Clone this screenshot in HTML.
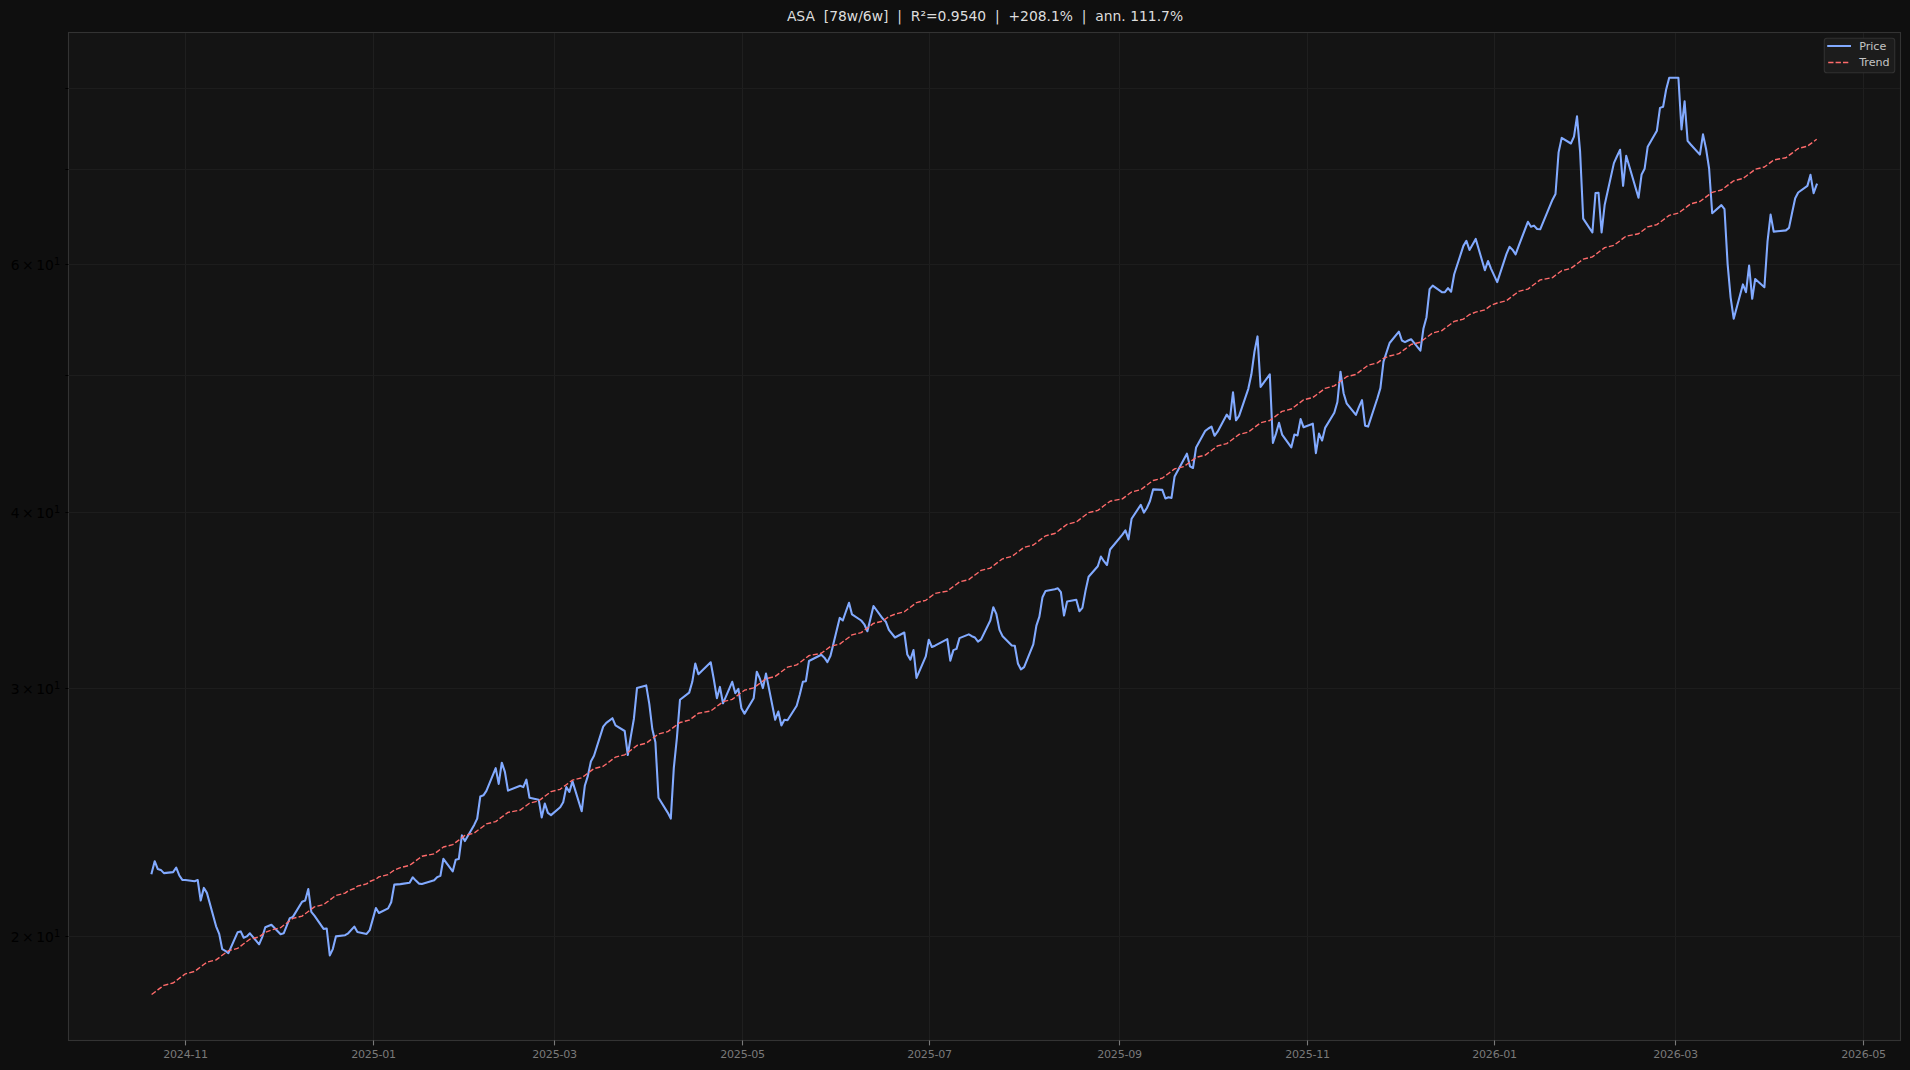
<!DOCTYPE html>
<html><head><meta charset="utf-8"><title>ASA trend</title>
<style>
html,body{margin:0;padding:0;background:#0f0f0f;}
body{width:1910px;height:1070px;overflow:hidden;}
svg{display:block;font-family:"DejaVu Sans","Liberation Sans",sans-serif;}
</style></head><body>
<svg width="1910" height="1070" viewBox="0 0 1910 1070">
<rect x="0" y="0" width="1910" height="1070" fill="#0f0f0f"/>
<rect x="68.5" y="32.5" width="1832.0" height="1008.0" fill="#141414"/>
<g stroke="#1f1f1f" stroke-width="1" fill="none">
<line x1="185.5" y1="32.5" x2="185.5" y2="1040.5"/>
<line x1="373.5" y1="32.5" x2="373.5" y2="1040.5"/>
<line x1="554.5" y1="32.5" x2="554.5" y2="1040.5"/>
<line x1="742.5" y1="32.5" x2="742.5" y2="1040.5"/>
<line x1="929.5" y1="32.5" x2="929.5" y2="1040.5"/>
<line x1="1119.5" y1="32.5" x2="1119.5" y2="1040.5"/>
<line x1="1307.5" y1="32.5" x2="1307.5" y2="1040.5"/>
<line x1="1494.5" y1="32.5" x2="1494.5" y2="1040.5"/>
<line x1="1675.5" y1="32.5" x2="1675.5" y2="1040.5"/>
<line x1="1863.5" y1="32.5" x2="1863.5" y2="1040.5"/>
<line x1="68.5" y1="936.5" x2="1900.5" y2="936.5" stroke="#1d1d1d"/>
<line x1="68.5" y1="688.5" x2="1900.5" y2="688.5" stroke="#1d1d1d"/>
<line x1="68.5" y1="512.5" x2="1900.5" y2="512.5" stroke="#1d1d1d"/>
<line x1="68.5" y1="375.5" x2="1900.5" y2="375.5" stroke="#1d1d1d"/>
<line x1="68.5" y1="264.5" x2="1900.5" y2="264.5" stroke="#1d1d1d"/>
<line x1="68.5" y1="169.5" x2="1900.5" y2="169.5" stroke="#1d1d1d"/>
<line x1="68.5" y1="88.5" x2="1900.5" y2="88.5" stroke="#1d1d1d"/>
</g>
<clipPath id="c"><rect x="68.5" y="32.5" width="1832.0" height="1008.0"/></clipPath>
<g clip-path="url(#c)" fill="none" stroke-linejoin="round">
<path d="M151.6 873.3 L154.7 861.2 L157.7 868.9 L160.8 869.9 L163.9 873.1 L173.1 872.1 L176.2 867.7 L179.2 875.2 L182.3 879.9 L185.4 880.0 L194.6 881.2 L197.7 880.0 L200.7 900.5 L203.8 887.9 L206.9 892.9 L216.1 926.3 L219.2 933.9 L222.2 949.1 L225.3 950.9 L228.4 953.2 L237.6 932.3 L240.7 931.4 L243.7 937.7 L246.8 936.4 L249.9 933.3 L259.1 944.3 L262.2 937.1 L265.3 927.2 L271.4 924.7 L280.6 934.3 L283.7 933.3 L286.8 925.7 L289.8 918.1 L292.9 916.9 L302.1 901.7 L305.2 900.5 L308.3 889.1 L311.3 911.8 L314.4 915.6 L323.6 928.9 L326.7 928.5 L329.8 955.4 L332.8 949.1 L335.9 936.4 L345.1 935.2 L348.2 933.3 L354.3 926.6 L357.4 932.0 L366.6 933.9 L369.7 930.1 L375.9 908.0 L378.9 913.0 L388.1 908.4 L391.2 902.3 L394.3 884.6 L400.4 884.1 L409.6 882.7 L412.7 877.3 L415.8 880.6 L418.9 883.6 L421.9 884.0 L434.2 880.2 L437.3 877.1 L440.4 875.8 L443.4 858.8 L452.7 871.4 L455.7 859.7 L458.8 859.1 L461.9 835.4 L464.9 841.1 L474.2 824.9 L477.2 818.6 L480.3 796.5 L483.4 795.3 L486.4 790.9 L495.7 768.1 L498.7 783.9 L501.8 762.7 L504.9 771.9 L508.0 790.6 L520.2 785.8 L523.3 787.1 L526.4 779.7 L529.5 797.8 L538.7 799.7 L541.7 817.4 L544.8 803.5 L547.9 812.9 L551.0 815.1 L560.2 807.3 L563.2 802.2 L566.3 787.1 L569.4 791.9 L572.5 781.4 L581.7 811.3 L584.8 785.8 L587.8 776.1 L590.9 761.5 L594.0 755.8 L603.2 726.6 L606.3 722.8 L609.3 720.6 L612.4 718.2 L615.5 725.4 L624.7 731.0 L627.8 755.0 L630.8 736.7 L633.9 718.7 L637.0 688.1 L646.2 685.4 L649.3 703.9 L652.3 729.0 L655.4 742.3 L658.5 797.8 L667.7 812.6 L670.8 818.6 L673.8 768.1 L676.9 737.9 L680.0 699.7 L689.2 692.6 L692.3 681.8 L695.3 663.5 L698.4 674.3 L710.7 662.3 L713.8 679.3 L716.9 698.2 L719.9 686.9 L723.0 703.3 L732.2 681.8 L735.3 693.2 L738.4 688.8 L741.4 708.3 L744.5 713.6 L753.7 698.2 L756.8 671.7 L759.9 678.7 L762.9 688.1 L766.0 673.6 L775.2 719.7 L778.3 711.5 L781.4 725.4 L784.4 719.7 L787.5 720.3 L796.7 705.8 L799.8 694.4 L802.9 681.8 L805.9 681.2 L809.0 661.0 L821.3 654.8 L824.4 657.7 L827.4 662.1 L830.5 655.8 L839.7 617.9 L842.8 620.5 L845.9 611.5 L849.0 602.8 L852.0 614.4 L861.2 620.5 L864.3 624.3 L867.4 631.2 L870.5 618.6 L873.5 606.0 L882.7 618.6 L885.8 621.7 L888.9 629.9 L895.0 637.5 L904.3 632.5 L907.3 654.5 L910.4 659.6 L913.5 650.1 L916.5 677.9 L925.8 656.4 L928.8 639.7 L931.9 647.0 L935.0 645.7 L947.3 639.1 L950.3 660.6 L953.4 650.1 L956.5 648.9 L959.5 638.1 L968.8 634.4 L971.8 636.2 L974.9 637.5 L978.0 641.7 L981.1 639.4 L990.3 620.5 L993.3 607.2 L996.4 614.2 L999.5 629.9 L1002.6 636.2 L1011.8 645.5 L1014.8 645.7 L1017.9 663.4 L1021.0 669.4 L1024.1 667.2 L1033.3 644.4 L1036.4 625.6 L1039.4 616.7 L1042.5 597.2 L1045.6 590.9 L1054.8 589.3 L1057.9 588.3 L1060.9 592.1 L1064.0 615.5 L1067.1 601.6 L1076.3 599.7 L1079.4 611.3 L1082.4 607.9 L1085.5 590.9 L1088.6 576.7 L1097.8 566.2 L1100.9 556.5 L1103.9 561.2 L1107.0 565.0 L1110.1 549.5 L1122.4 534.7 L1125.4 530.3 L1128.5 539.4 L1131.6 518.7 L1140.8 504.8 L1143.9 512.6 L1146.9 508.0 L1150.0 501.0 L1153.1 489.4 L1162.3 489.9 L1165.4 498.5 L1168.5 497.3 L1171.5 497.9 L1174.6 476.4 L1183.8 459.4 L1186.9 453.7 L1190.0 466.3 L1193.0 468.0 L1196.1 447.4 L1205.3 430.8 L1208.4 428.5 L1211.5 426.6 L1214.5 435.8 L1217.6 431.7 L1226.8 414.6 L1229.9 419.1 L1233.0 392.3 L1236.0 420.3 L1239.1 415.9 L1248.3 388.8 L1251.4 374.3 L1254.5 351.5 L1257.5 336.4 L1260.6 386.9 L1269.8 374.3 L1272.9 443.0 L1276.0 433.6 L1279.0 422.8 L1282.1 434.6 L1291.3 447.4 L1294.4 434.6 L1297.5 435.5 L1300.6 419.1 L1303.6 427.3 L1312.8 423.7 L1315.9 453.1 L1319.0 433.6 L1322.1 440.5 L1325.1 427.9 L1334.3 412.7 L1337.4 402.0 L1340.5 371.7 L1343.6 393.2 L1346.6 403.3 L1355.9 414.9 L1358.9 407.1 L1362.0 400.1 L1365.1 425.7 L1368.1 426.6 L1377.4 398.2 L1380.4 388.1 L1383.5 361.6 L1389.6 343.0 L1398.9 331.7 L1401.9 340.5 L1405.0 342.1 L1408.1 340.5 L1411.1 339.2 L1420.4 350.6 L1423.4 328.8 L1426.5 317.2 L1429.6 289.1 L1432.7 285.6 L1441.9 292.2 L1444.9 292.2 L1448.0 288.1 L1451.1 291.7 L1454.2 274.3 L1463.4 245.9 L1466.4 240.8 L1469.5 250.0 L1475.7 238.9 L1484.9 270.2 L1488.0 261.0 L1491.0 268.6 L1497.2 282.1 L1506.4 254.1 L1509.5 246.8 L1512.5 249.7 L1515.6 254.3 L1518.7 245.9 L1527.9 221.8 L1531.0 226.8 L1534.0 225.6 L1537.1 229.0 L1540.2 229.3 L1552.5 199.7 L1555.5 194.0 L1558.6 152.4 L1561.7 137.9 L1570.9 143.5 L1574.0 136.6 L1577.0 116.4 L1580.1 151.7 L1583.2 218.6 L1592.4 232.5 L1595.5 193.1 L1598.5 192.7 L1601.6 232.5 L1604.7 204.7 L1613.9 163.1 L1617.0 156.2 L1620.1 149.8 L1623.1 185.8 L1626.2 155.8 L1638.5 197.8 L1641.6 174.4 L1644.6 168.8 L1647.7 146.7 L1656.9 130.7 L1660.0 107.9 L1663.1 106.7 L1666.1 89.7 L1669.2 77.7 L1678.4 77.7 L1681.5 129.4 L1684.6 101.4 L1687.6 140.8 L1690.7 144.5 L1699.9 154.6 L1703.0 134.4 L1706.1 149.0 L1709.1 168.5 L1712.2 213.3 L1721.4 205.1 L1724.5 209.2 L1727.6 263.8 L1730.6 297.3 L1733.7 318.7 L1742.9 284.4 L1746.0 292.2 L1749.1 265.5 L1752.2 298.8 L1755.2 279.0 L1764.4 287.2 L1767.5 241.7 L1770.6 214.6 L1773.7 231.6 L1785.9 230.4 L1789.0 227.9 L1792.1 212.7 L1795.2 198.2 L1798.2 192.5 L1807.4 185.9 L1810.5 174.8 L1813.6 193.1 L1816.7 184.7" stroke="#82aaff" stroke-width="2.08" stroke-linecap="square"/>
<path d="M151.6 994.5 L154.7 992.2 L157.7 989.9 L160.8 987.6 L163.9 985.3 L173.1 983.0 L176.2 980.7 L179.2 978.4 L182.3 976.1 L185.4 973.8 L194.6 971.4 L197.7 969.1 L200.7 966.8 L203.8 964.5 L206.9 962.2 L216.1 959.9 L219.2 957.6 L222.2 955.3 L225.3 953.0 L228.4 950.7 L237.6 948.4 L240.7 946.1 L243.7 943.8 L246.8 941.5 L249.9 939.2 L259.1 936.9 L262.2 934.6 L265.3 932.3 L271.4 930.0 L280.6 927.7 L283.7 925.3 L286.8 923.0 L289.8 920.7 L292.9 918.4 L302.1 916.1 L305.2 913.8 L308.3 911.5 L311.3 909.2 L314.4 906.9 L323.6 904.6 L326.7 902.3 L329.8 900.0 L332.8 897.7 L335.9 895.4 L345.1 893.1 L348.2 890.8 L354.3 888.5 L357.4 886.2 L366.6 883.9 L369.7 881.5 L375.9 879.2 L378.9 876.9 L388.1 874.6 L391.2 872.3 L394.3 870.0 L400.4 867.7 L409.6 865.4 L412.7 863.1 L415.8 860.8 L418.9 858.5 L421.9 856.2 L434.2 853.9 L437.3 851.6 L440.4 849.3 L443.4 847.0 L452.7 844.7 L455.7 842.4 L458.8 840.1 L461.9 837.8 L464.9 835.4 L474.2 833.1 L477.2 830.8 L480.3 828.5 L483.4 826.2 L486.4 823.9 L495.7 821.6 L498.7 819.3 L501.8 817.0 L504.9 814.7 L508.0 812.4 L520.2 810.1 L523.3 807.8 L526.4 805.5 L529.5 803.2 L538.7 800.9 L541.7 798.6 L544.8 796.3 L547.9 794.0 L551.0 791.6 L560.2 789.3 L563.2 787.0 L566.3 784.7 L569.4 782.4 L572.5 780.1 L581.7 777.8 L584.8 775.5 L587.8 773.2 L590.9 770.9 L594.0 768.6 L603.2 766.3 L606.3 764.0 L609.3 761.7 L612.4 759.4 L615.5 757.1 L624.7 754.8 L627.8 752.5 L630.8 750.2 L633.9 747.9 L637.0 745.5 L646.2 743.2 L649.3 740.9 L652.3 738.6 L655.4 736.3 L658.5 734.0 L667.7 731.7 L670.8 729.4 L673.8 727.1 L676.9 724.8 L680.0 722.5 L689.2 720.2 L692.3 717.9 L695.3 715.6 L698.4 713.3 L710.7 711.0 L713.8 708.7 L716.9 706.4 L719.9 704.1 L723.0 701.7 L732.2 699.4 L735.3 697.1 L738.4 694.8 L741.4 692.5 L744.5 690.2 L753.7 687.9 L756.8 685.6 L759.9 683.3 L762.9 681.0 L766.0 678.7 L775.2 676.4 L778.3 674.1 L781.4 671.8 L784.4 669.5 L787.5 667.2 L796.7 664.9 L799.8 662.6 L802.9 660.3 L805.9 658.0 L809.0 655.6 L821.3 653.3 L824.4 651.0 L827.4 648.7 L830.5 646.4 L839.7 644.1 L842.8 641.8 L845.9 639.5 L849.0 637.2 L852.0 634.9 L861.2 632.6 L864.3 630.3 L867.4 628.0 L870.5 625.7 L873.5 623.4 L882.7 621.1 L885.8 618.8 L888.9 616.5 L895.0 614.2 L904.3 611.8 L907.3 609.5 L910.4 607.2 L913.5 604.9 L916.5 602.6 L925.8 600.3 L928.8 598.0 L931.9 595.7 L935.0 593.4 L947.3 591.1 L950.3 588.8 L953.4 586.5 L956.5 584.2 L959.5 581.9 L968.8 579.6 L971.8 577.3 L974.9 575.0 L978.0 572.7 L981.1 570.4 L990.3 568.1 L993.3 565.7 L996.4 563.4 L999.5 561.1 L1002.6 558.8 L1011.8 556.5 L1014.8 554.2 L1017.9 551.9 L1021.0 549.6 L1024.1 547.3 L1033.3 545.0 L1036.4 542.7 L1039.4 540.4 L1042.5 538.1 L1045.6 535.8 L1054.8 533.5 L1057.9 531.2 L1060.9 528.9 L1064.0 526.6 L1067.1 524.3 L1076.3 522.0 L1079.4 519.6 L1082.4 517.3 L1085.5 515.0 L1088.6 512.7 L1097.8 510.4 L1100.9 508.1 L1103.9 505.8 L1107.0 503.5 L1110.1 501.2 L1122.4 498.9 L1125.4 496.6 L1128.5 494.3 L1131.6 492.0 L1140.8 489.7 L1143.9 487.4 L1146.9 485.1 L1150.0 482.8 L1153.1 480.5 L1162.3 478.2 L1165.4 475.8 L1168.5 473.5 L1171.5 471.2 L1174.6 468.9 L1183.8 466.6 L1186.9 464.3 L1190.0 462.0 L1193.0 459.7 L1196.1 457.4 L1205.3 455.1 L1208.4 452.8 L1211.5 450.5 L1214.5 448.2 L1217.6 445.9 L1226.8 443.6 L1229.9 441.3 L1233.0 439.0 L1236.0 436.7 L1239.1 434.4 L1248.3 432.1 L1251.4 429.7 L1254.5 427.4 L1257.5 425.1 L1260.6 422.8 L1269.8 420.5 L1272.9 418.2 L1276.0 415.9 L1279.0 413.6 L1282.1 411.3 L1291.3 409.0 L1294.4 406.7 L1297.5 404.4 L1300.6 402.1 L1303.6 399.8 L1312.8 397.5 L1315.9 395.2 L1319.0 392.9 L1322.1 390.6 L1325.1 388.3 L1334.3 385.9 L1337.4 383.6 L1340.5 381.3 L1343.6 379.0 L1346.6 376.7 L1355.9 374.4 L1358.9 372.1 L1362.0 369.8 L1365.1 367.5 L1368.1 365.2 L1377.4 362.9 L1380.4 360.6 L1383.5 358.3 L1389.6 356.0 L1398.9 353.7 L1401.9 351.4 L1405.0 349.1 L1408.1 346.8 L1411.1 344.5 L1420.4 342.2 L1423.4 339.8 L1426.5 337.5 L1429.6 335.2 L1432.7 332.9 L1441.9 330.6 L1444.9 328.3 L1448.0 326.0 L1451.1 323.7 L1454.2 321.4 L1463.4 319.1 L1466.4 316.8 L1469.5 314.5 L1475.7 312.2 L1484.9 309.9 L1488.0 307.6 L1491.0 305.3 L1497.2 303.0 L1506.4 300.7 L1509.5 298.4 L1512.5 296.0 L1515.6 293.7 L1518.7 291.4 L1527.9 289.1 L1531.0 286.8 L1534.0 284.5 L1537.1 282.2 L1540.2 279.9 L1552.5 277.6 L1555.5 275.3 L1558.6 273.0 L1561.7 270.7 L1570.9 268.4 L1574.0 266.1 L1577.0 263.8 L1580.1 261.5 L1583.2 259.2 L1592.4 256.9 L1595.5 254.6 L1598.5 252.3 L1601.6 249.9 L1604.7 247.6 L1613.9 245.3 L1617.0 243.0 L1620.1 240.7 L1623.1 238.4 L1626.2 236.1 L1638.5 233.8 L1641.6 231.5 L1644.6 229.2 L1647.7 226.9 L1656.9 224.6 L1660.0 222.3 L1663.1 220.0 L1666.1 217.7 L1669.2 215.4 L1678.4 213.1 L1681.5 210.8 L1684.6 208.5 L1687.6 206.1 L1690.7 203.8 L1699.9 201.5 L1703.0 199.2 L1706.1 196.9 L1709.1 194.6 L1712.2 192.3 L1721.4 190.0 L1724.5 187.7 L1727.6 185.4 L1730.6 183.1 L1733.7 180.8 L1742.9 178.5 L1746.0 176.2 L1749.1 173.9 L1752.2 171.6 L1755.2 169.3 L1764.4 167.0 L1767.5 164.7 L1770.6 162.4 L1773.7 160.0 L1785.9 157.7 L1789.0 155.4 L1792.1 153.1 L1795.2 150.8 L1798.2 148.5 L1807.4 146.2 L1810.5 143.9 L1813.6 141.6 L1816.7 139.3" stroke="#ff6b6b" stroke-width="1.39" stroke-dasharray="5.14 2.22" stroke-linecap="butt"/>
</g>
<rect x="68.5" y="32.5" width="1832.0" height="1008.0" fill="none" stroke="#333333" stroke-width="1.1"/>
<g stroke="#7a7a7a" stroke-width="1.1">
<line x1="185.5" y1="1040.5" x2="185.5" y2="1045.4"/>
<line x1="373.5" y1="1040.5" x2="373.5" y2="1045.4"/>
<line x1="554.5" y1="1040.5" x2="554.5" y2="1045.4"/>
<line x1="742.5" y1="1040.5" x2="742.5" y2="1045.4"/>
<line x1="929.5" y1="1040.5" x2="929.5" y2="1045.4"/>
<line x1="1119.5" y1="1040.5" x2="1119.5" y2="1045.4"/>
<line x1="1307.5" y1="1040.5" x2="1307.5" y2="1045.4"/>
<line x1="1494.5" y1="1040.5" x2="1494.5" y2="1045.4"/>
<line x1="1675.5" y1="1040.5" x2="1675.5" y2="1045.4"/>
<line x1="1863.5" y1="1040.5" x2="1863.5" y2="1045.4"/>
</g>
<g fill="#7a7a7a" font-size="11.11" text-anchor="middle" style="letter-spacing:-0.28px">
<text x="185.5" y="1058.0">2024-11</text>
<text x="373.5" y="1058.0">2025-01</text>
<text x="554.5" y="1058.0">2025-03</text>
<text x="742.5" y="1058.0">2025-05</text>
<text x="929.5" y="1058.0">2025-07</text>
<text x="1119.5" y="1058.0">2025-09</text>
<text x="1307.5" y="1058.0">2025-11</text>
<text x="1494.5" y="1058.0">2026-01</text>
<text x="1675.5" y="1058.0">2026-03</text>
<text x="1863.5" y="1058.0">2026-05</text>
</g>
<g stroke="#000" stroke-width="1">
<line x1="65.4" y1="936.5" x2="68.5" y2="936.5"/>
<line x1="65.4" y1="688.5" x2="68.5" y2="688.5"/>
<line x1="65.4" y1="512.5" x2="68.5" y2="512.5"/>
<line x1="65.4" y1="375.5" x2="68.5" y2="375.5"/>
<line x1="65.4" y1="264.5" x2="68.5" y2="264.5"/>
<line x1="65.4" y1="169.5" x2="68.5" y2="169.5"/>
<line x1="65.4" y1="88.5" x2="68.5" y2="88.5"/>
</g>
<g fill="#000" font-size="13.89" text-anchor="end" style="word-spacing:-2px">
<text x="53.8" y="941.6">2 × 10</text><text x="54.0" y="936.8" font-size="9.72" text-anchor="start">1</text>
<text x="53.8" y="693.6">3 × 10</text><text x="54.0" y="688.8" font-size="9.72" text-anchor="start">1</text>
<text x="53.8" y="517.6">4 × 10</text><text x="54.0" y="512.8" font-size="9.72" text-anchor="start">1</text>
<text x="53.8" y="269.6">6 × 10</text><text x="54.0" y="264.8" font-size="9.72" text-anchor="start">1</text>
</g>
<text x="985.0" y="21.2" fill="#dddddd" font-size="13.89" text-anchor="middle" style="white-space:pre" xml:space="preserve">ASA  [78w/6w]  |  R²=0.9540  |  +208.1%  |  ann. 111.7%</text>
<rect x="1824.3" y="38.2" width="70.4" height="34.6" rx="2.6" fill="#1c1c1c" stroke="#313131" stroke-width="1.1"/>
<line x1="1827.2" y1="46" x2="1851" y2="46" stroke="#82aaff" stroke-width="2"/>
<line x1="1828.2" y1="62.5" x2="1848.4" y2="62.5" stroke="#ff6b6b" stroke-width="1.39" stroke-dasharray="5.3 2.1"/>
<g fill="#c4c4c4" font-size="11.11"><text x="1859.2" y="49.8">Price</text><text x="1859.2" y="66.3">Trend</text></g>
</svg></body></html>
